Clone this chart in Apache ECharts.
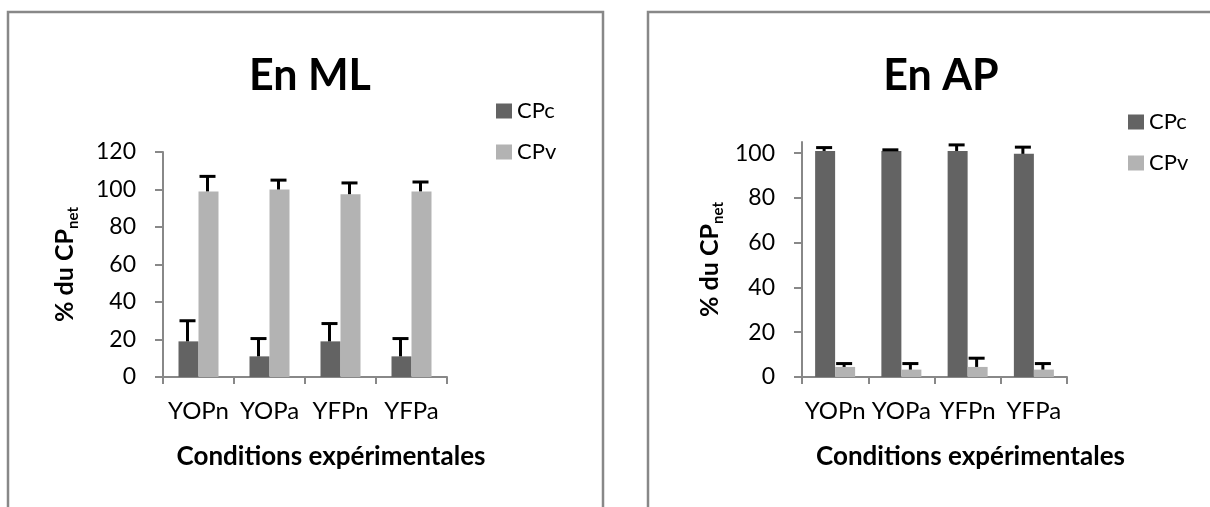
<!DOCTYPE html>
<html><head><meta charset="utf-8">
<script src="https://cdn.jsdelivr.net/npm/echarts@6/dist/echarts.min.js"></script>
<style>html,body{margin:0;padding:0;background:#fff}#c{width:1210px;height:507px}</style>
</head><body><div id="c"></div>
<script>
const categories = ['YOPn', 'YOPa', 'YFPn', 'YFPa'];
const seriesNames = ['CPc', 'CPv'];
// En ML
const mlCPc = [19, 11, 19, 11];
const mlCPcErr = [11, 9.5, 9.5, 9.5];
const mlCPv = [99, 100, 97.5, 99];
const mlCPvErr = [8, 5, 6, 5];
// En AP
const apCPc = [101, 101, 101, 99.7];
const apCPcErr = [1.5, 0.5, 2.7, 3];
const apCPv = [4.5, 3.3, 4.5, 3.3];
const apCPvErr = [1.5, 2.7, 3.9, 2.7];
const mlTicks = [0, 20, 40, 60, 80, 100, 120];
const apTicks = [0, 20, 40, 60, 80, 100];

const FONT = 'Lato';
const C1 = '#636363', C2 = '#b3b3b3', AX = '#888888';

function errSeries(xi, vals, errs, side) {
  return {
    type: 'custom', xAxisIndex: xi, yAxisIndex: xi, silent: true, z: 5,
    data: vals.map((v, i) => [i, v, v + errs[i]]),
    renderItem: function (params, api) {
      const p0 = api.coord([api.value(0), api.value(1)]);
      const p1 = api.coord([api.value(0), api.value(2)]);
      const x = p0[0] + side * 10 - 1;
      return {
        type: 'group', children: [
          { type: 'line', shape: { x1: x, y1: p0[1], x2: x, y2: p1[1] }, style: { stroke: '#000', lineWidth: 3 } },
          { type: 'line', shape: { x1: x - 8, y1: p1[1], x2: x + 8, y2: p1[1] }, style: { stroke: '#000', lineWidth: 3 } }
        ]
      };
    }
  };
}

function xAxisCfg(gi, shift) {
  return {
    type: 'category', gridIndex: gi, data: categories,
    axisLine: { lineStyle: { color: AX, width: 2 } },
    axisTick: { show: true, length: 7, lineStyle: { color: AX, width: 2 } },
    axisLabel: { color: '#000', fontFamily: FONT, fontSize: 24, margin: 22, interval: 0 },
    name: 'Conditions expérimentales', nameLocation: 'middle', nameGap: 67,
    nameTextStyle: { fontFamily: FONT, fontWeight: 'bold', fontSize: 26, color: '#000', padding: [0, 0, 0, shift * 2] }
  };
}
function yAxisCfg(gi, max, ticks, gap) {
  return {
    type: 'value', gridIndex: gi, min: 0, max: max, interval: 20,
    axisLine: { show: true, lineStyle: { color: AX, width: 2 } },
    axisTick: { show: true, length: 8, lineStyle: { color: AX, width: 2 }, customValues: ticks },
    splitLine: { show: false },
    axisLabel: { color: '#000', fontFamily: FONT, fontSize: 23, margin: 27, customValues: ticks },
    name: '{a|% du CP}{b|net}', nameLocation: 'middle', nameGap: gap,
    nameTextStyle: {
      color: '#000', fontFamily: FONT,
      rich: {
        a: { fontFamily: FONT, fontWeight: 'bold', fontSize: 25, color: '#000', verticalAlign: 'bottom', lineHeight: 28 },
        b: { fontFamily: FONT, fontWeight: 'bold', fontSize: 15, color: '#000', verticalAlign: 'bottom', lineHeight: 28, padding: [0, 0, -4, 0] }
      }
    }
  };
}
function barSeries(gi, name, data, color) {
  return { type: 'bar', name: name, xAxisIndex: gi, yAxisIndex: gi, data: data, barWidth: 20, barGap: '0%', itemStyle: { color: color }, silent: true };
}
function legendCfg(left, top) {
  return { orient: 'vertical', left: left, top: top, itemWidth: 16, itemHeight: 15, itemGap: 19, icon: 'rect',
    data: seriesNames.map(n => ({ name: n })), textStyle: { fontFamily: FONT, fontSize: 22, color: '#000', lineHeight: 22 } };
}

const chart = echarts.init(document.getElementById('c'), null, { renderer: 'canvas' });
chart.setOption({
  animation: false,
  title: [
    { text: 'En ML', left: 305, top: 50, textAlign: 'center', textStyle: { fontFamily: FONT, fontWeight: 'bold', fontSize: 43, color: '#000' } },
    { text: 'En AP', left: 936, top: 50, textAlign: 'center', textStyle: { fontFamily: FONT, fontWeight: 'bold', fontSize: 43, color: '#000' } }
  ],
  legend: [legendCfg(491, 95), legendCfg(1123, 106)],
  grid: [
    { left: 163, top: 152, width: 284, height: 225 },
    { left: 802, top: 142, width: 265, height: 235 }
  ],
  xAxis: [xAxisCfg(0, 26), xAxisCfg(1, 36)],
  yAxis: [yAxisCfg(0, 120, mlTicks, 86), yAxisCfg(1, 105, apTicks, 80)],
  series: [
    barSeries(0, 'CPc', mlCPc, C1), barSeries(0, 'CPv', mlCPv, C2),
    barSeries(1, 'CPc', apCPc, C1), barSeries(1, 'CPv', apCPv, C2),
    errSeries(0, mlCPc, mlCPcErr, -1), errSeries(0, mlCPv, mlCPvErr, 1),
    errSeries(1, apCPc, apCPcErr, -1), errSeries(1, apCPv, apCPvErr, 1)
  ],
  graphic: [
    { type: 'rect', shape: { x: 8, y: 12, width: 595, height: 520 }, style: { fill: 'none', stroke: AX, lineWidth: 2.5 }, silent: true, z: -1 },
    { type: 'rect', shape: { x: 648, y: 12, width: 600, height: 520 }, style: { fill: 'none', stroke: AX, lineWidth: 2.5 }, silent: true, z: -1 }
  ]
});
</script></body></html>
